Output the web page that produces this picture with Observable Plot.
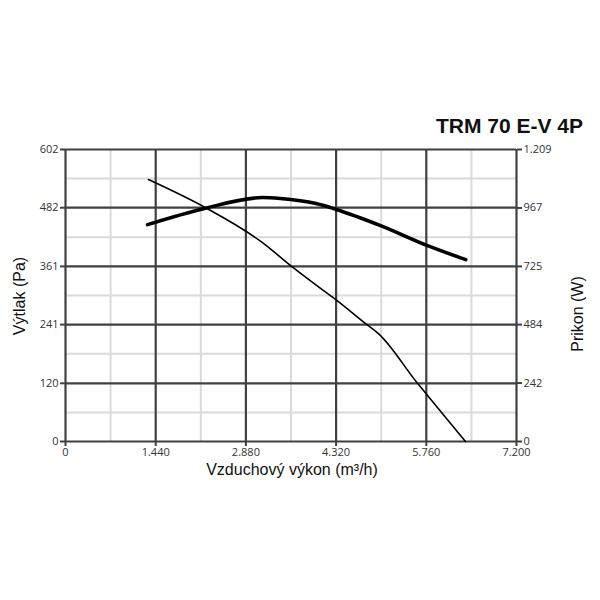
<!DOCTYPE html>
<html>
<head>
<meta charset="utf-8">
<script src="https://cdn.jsdelivr.net/npm/d3@7"></script>
<script src="https://cdn.jsdelivr.net/npm/@observablehq/plot@0.6"></script>
<style>
  body { margin: 0; background: #fff; }
  #wrap { position: relative; width: 600px; height: 600px; }
  .lbl { position: absolute; font-family: "Liberation Sans", Arial, sans-serif; color: #111; white-space: nowrap; }
</style>
</head>
<body>
<div id="wrap"></div>
<script>
// ---- data ----
const title = "TRM 70 E-V 4P";
const xLabel = "Vzduchový výkon (m³/h)";
const yLeftLabel = "Výtlak (Pa)";
const yRightLabel = "Prikon (W)";

const xTicks = [0, 1440, 2880, 4320, 5760, 7200];
const xMinor = [720, 2160, 3600, 5040, 6480];
const leftTicks = [0, 120, 241, 361, 482, 602];
const leftMinor = [60, 181, 301, 421, 542];
const rightTicks = [0, 242, 484, 725, 967, 1209];

// pressure curve (m3/h, Pa)
const flowP = [1325, 2235, 3145, 3600, 4120, 4320, 4790, 5000, 5620, 5780, 6385];
const pressure = [540, 482, 410, 362, 311, 292, 243, 222, 120, 95, 0];

// power curve (m3/h, W)
const flowW = [1310, 2235, 3145, 3430, 4000, 4310, 5030, 5780, 6390];
const power = [898, 966, 1010, 1006, 985, 962, 894, 811, 753];

const pMax = 602, wMax = 1209;
const toLeft = w => w * pMax / wMax;

const pData = flowP.map((q, i) => ({q, v: pressure[i]}));
const wData = flowW.map((q, i) => ({q, v: power[i]}));

const loc = d3.formatLocale({decimal: ",", thousands: ".", grouping: [3], currency: ["", ""]});
const fmtNum = d => d === 0 ? "0" : loc.format(",")(d);

const major = "#404040";
const minor = "#dadada";

const chart = Plot.plot({
  width: 600,
  height: 600,
  marginTop: 149,
  marginBottom: 159,
  marginLeft: 65,
  marginRight: 84,
  style: {fontFamily: "'Open Sans', sans-serif", fontSize: "11px", color: "#333", background: "#fff"},
  x: {domain: [0, 7200]},
  y: {domain: [0, pMax]},
  marks: [
    Plot.ruleX(xMinor, {stroke: minor, strokeWidth: 2}),
    Plot.ruleY(leftMinor, {stroke: minor, strokeWidth: 2}),
    Plot.ruleX(xTicks, {stroke: major, strokeWidth: 2.2}),
    Plot.ruleY(leftTicks, {stroke: major, strokeWidth: 2.2}),
    Plot.axisX({ticks: xTicks, tickFormat: fmtNum, tickSize: 5, tickPadding: 2, stroke: major, strokeWidth: 2, label: null}),
    Plot.axisY({anchor: "left", ticks: leftTicks, tickSize: 5, tickPadding: 2, stroke: major, strokeWidth: 2, label: null}),
    Plot.axisY({anchor: "right", ticks: rightTicks.map(toLeft), tickFormat: (d, i) => fmtNum(rightTicks[i]), tickSize: 5, tickPadding: 2, stroke: major, strokeWidth: 2, label: null}),
    Plot.line(pData, {x: "q", y: "v", stroke: "#000", strokeWidth: 1.6, curve: "monotone-x"}),
    Plot.line(wData, {x: "q", y: d => toLeft(d.v), stroke: "#000", strokeWidth: 3.6, curve: "monotone-x"})
  ]
});

const wrap = document.getElementById("wrap");
wrap.appendChild(chart);

function addLabel(text, css) {
  const d = document.createElement("div");
  d.className = "lbl";
  d.textContent = text;
  Object.assign(d.style, css);
  wrap.appendChild(d);
  return d;
}
addLabel(title, {right: "17px", top: "114px", fontSize: "21px", fontWeight: "bold"});
addLabel(xLabel, {left: "292px", top: "461px", fontSize: "16px", transform: "translateX(-50%)"});
addLabel(yLeftLabel, {left: "20px", top: "296px", fontSize: "16px", transform: "translate(-50%, -50%) rotate(-90deg)"});
addLabel(yRightLabel, {left: "578px", top: "314px", fontSize: "16px", transform: "translate(-50%, -50%) rotate(-90deg)"});
</script>
</body>
</html>
